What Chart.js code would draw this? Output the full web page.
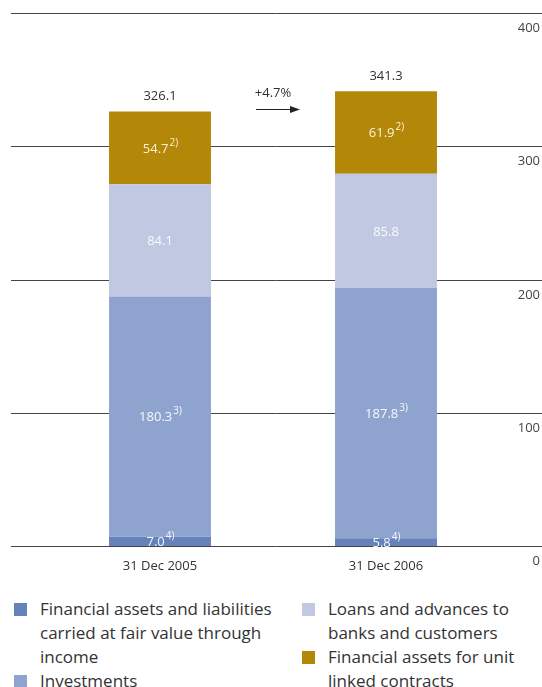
<!DOCTYPE html>
<html>
<head>
<meta charset="utf-8">
<script src="https://cdn.jsdelivr.net/npm/chart.js@4/dist/chart.umd.min.js"></script>
<style>
  body { margin: 0; background: #fff; font-family: "Open Sans", sans-serif; }
  #wrap { position: relative; width: 542px; height: 687px; }
  #chart { position: absolute; left: 0; top: 0; }
  #legend { position: absolute; left: 0; top: 597px; width: 542px; }
  .col { position: absolute; top: 0; }
  .item { position: relative; padding-left: 26px; font-size: 17px; line-height: 24px; color: #333; white-space: pre-line; }
  .box { position: absolute; left: 0; top: 6px; width: 13px; height: 13px; }
</style>
</head>
<body>
<div id="wrap">
  <canvas id="chart" width="542" height="580"></canvas>
  <div id="legend"></div>
</div>
<script>
// data
const categories = ['31 Dec 2005', '31 Dec 2006'];
const seriesNames = [
  'Financial assets and liabilities\ncarried at fair value through\nincome',
  'Investments',
  'Loans and advances to\nbanks and customers',
  'Financial assets for unit\nlinked contracts'
];
const fairValue = [7.0, 5.8];
const investments = [180.3, 187.8];
const loans = [84.1, 85.8];
const unitLinked = [54.7, 61.9];
const footnotes = ['4)', '3)', '', '2)'];
const yTicks = [0, 100, 200, 300, 400];

const colors = ['#6682bb', '#8fa3cf', '#c0c8e2', '#b38708'];
const seriesValues = [fairValue, investments, loans, unitLinked];

const totals = categories.map((c, i) => seriesValues.reduce((s, arr) => s + arr[i], 0));
const growth = (totals[1] / totals[0] - 1) * 100;

// gridlines + y tick labels across full width
const gridPlugin = {
    id: 'grid',
    beforeDatasetsDraw(chart) {
        const ctx = chart.ctx;
        const y = chart.scales.y;
        ctx.save();
        ctx.strokeStyle = '#444';
        ctx.lineWidth = 1;
        ctx.fillStyle = '#444';
        ctx.font = '13px "Open Sans", sans-serif';
        ctx.textAlign = 'right';
        ctx.textBaseline = 'middle';
        yTicks.forEach(v => {
            const py = Math.round(y.getPixelForValue(v)) + 0.5;
            ctx.beginPath();
            ctx.moveTo(11, py);
            ctx.lineTo(chart.width, py);
            ctx.stroke();
            ctx.fillText(String(v), 540, py + 15);
        });
        ctx.restore();
    }
};

// values inside segments, totals, growth arrow
const labelPlugin = {
    id: 'labels',
    afterDatasetsDraw(chart) {
        const ctx = chart.ctx;
        ctx.save();
        ctx.textBaseline = 'middle';
        chart.data.datasets.forEach((ds, di) => {
            const meta = chart.getDatasetMeta(di);
            meta.data.forEach((el, i) => {
                const txt = ds.data[i].toFixed(1);
                const cy = (el.y + el.base) / 2 + 1;
                ctx.font = '13px "Open Sans", sans-serif';
                const w1 = ctx.measureText(txt).width;
                ctx.font = '10px "Open Sans", sans-serif';
                const w2 = ctx.measureText(footnotes[di]).width;
                const x0 = el.x - (w1 + w2) / 2;
                ctx.fillStyle = di === 3 ? 'rgba(255,248,225,0.95)' : 'rgba(255,255,255,0.92)';
                ctx.textAlign = 'left';
                ctx.font = '13px "Open Sans", sans-serif';
                ctx.fillText(txt, x0, cy);
                ctx.font = '10px "Open Sans", sans-serif';
                ctx.fillText(footnotes[di], x0 + w1 + 1, cy - 6);
            });
        });
        // totals
        const top = chart.getDatasetMeta(chart.data.datasets.length - 1);
        ctx.fillStyle = '#333';
        ctx.textAlign = 'center';
        ctx.font = '13px "Open Sans", sans-serif';
        top.data.forEach((el, i) => {
            ctx.fillText(totals[i].toFixed(1), el.x, el.y - 15);
        });
        // growth
        const x = chart.scales.x, y = chart.scales.y;
        const mx = (x.getPixelForValue(0) + x.getPixelForValue(1)) / 2;
        ctx.fillText('+' + growth.toFixed(1) + '%', mx, y.getPixelForValue(340));
        const ay = Math.round(y.getPixelForValue(328)) + 0.5;
        ctx.strokeStyle = '#222';
        ctx.lineWidth = 1;
        ctx.beginPath();
        ctx.moveTo(mx - 17, ay);
        ctx.lineTo(mx + 20, ay);
        ctx.stroke();
        ctx.fillStyle = '#222';
        ctx.beginPath();
        ctx.moveTo(mx + 27, ay);
        ctx.lineTo(mx + 17, ay - 3.5);
        ctx.lineTo(mx + 17, ay + 3.5);
        ctx.closePath();
        ctx.fill();
        ctx.restore();
    }
};

new Chart(document.getElementById('chart'), {
    type: 'bar',
    data: {
        labels: categories,
        datasets: seriesValues.map((vals, i) => ({
            label: seriesNames[i],
            data: vals,
            backgroundColor: colors[i],
            borderWidth: 0,
            categoryPercentage: 1,
            barPercentage: 0.451
        }))
    },
    options: {
        responsive: false,
        animation: false,
        layout: { padding: { left: 47, right: 43, top: 13, bottom: 4 } },
        plugins: { legend: { display: false }, tooltip: { enabled: false } },
        scales: {
            x: {
                stacked: true,
                grid: { display: false },
                border: { display: false },
                ticks: { color: '#333', font: { family: '"Open Sans", sans-serif', size: 13 }, padding: 4 },
                afterFit(scale) { scale.height = 30; }
            },
            y: {
                stacked: true,
                display: false,
                min: 0,
                max: 400,
                ticks: { stepSize: 100 }
            }
        }
    },
    plugins: [gridPlugin, labelPlugin]
});

// legend: two columns, items flow down
const legend = document.getElementById('legend');
const cols = [{ left: 14, items: [0, 1] }, { left: 302, items: [2, 3] }];
cols.forEach(c => {
    const col = document.createElement('div');
    col.className = 'col';
    col.style.left = c.left + 'px';
    c.items.forEach(i => {
        const it = document.createElement('div');
        it.className = 'item';
        it.textContent = seriesNames[i];
        const b = document.createElement('span');
        b.className = 'box';
        b.style.background = colors[i];
        it.appendChild(b);
        col.appendChild(it);
    });
    legend.appendChild(col);
});
</script>
</body>
</html>
